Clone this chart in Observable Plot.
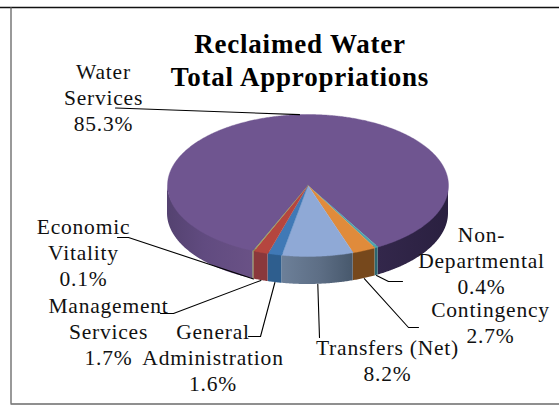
<!DOCTYPE html>
<html>
<head>
<meta charset="utf-8">
<style>
html,body{margin:0;padding:0;background:#fff}
svg{display:block}
</style>
<script src="https://cdn.jsdelivr.net/npm/d3@7"></script>
<script src="https://cdn.jsdelivr.net/npm/@observablehq/plot@0.6"></script>
</head>
<body>
<div id="chart"></div>
<script>
// ---- chart values, clockwise from the Water Services slice
const categories = ["Water\nServices", "Non-\nDepartmental", "Contingency", "Transfers (Net)", "General\nAdministration", "Management\nServices", "Economic\nVitality"];
const shares = [85.3, 0.4, 2.7, 8.2, 1.6, 1.7, 0.1];
const titleLines = "Reclaimed Water\nTotal Appropriations";

// ---- styling, one entry per slice
const topColors = ["#6f5590", "#4fa3ad", "#e08b3b", "#8fa9d6", "#4079b6", "#b5463f", "#92a050"];
const wallColors = ["url(#wallWater)", "#2b6670", "#76481c", "url(#wallTransfers)", "#2e5e8e", "#8a383c", "#6c7434"];

// ---- layout, in page pixels
const cx = 307.5, cy = 185, rx = 140.5, ry = 71, depth = 28;
const firstAngle = 203; // degrees clockwise from the top of the pie
const labelX = [103, 481, 490, 387, 212.5, 108, 83];
const labelY = [96.5, 259.5, 321, 359, 356.3, 330, 251.5];
const elbows = [
  [[115, 107.5]],
  [[402, 281], [388, 281]],
  [[418, 327], [408, 327]],
  [[319, 337]],
  [[248, 336], [260, 336]],
  [[160, 313], [173, 313]],
  [[117, 237], [128, 237]]
];

// ---- geometry derived from the values
const rad = (d) => (d * Math.PI) / 180;
const px = (a) => cx + rx * Math.sin(rad(a));
const py = (a) => cy - ry * Math.cos(rad(a));
let cum = firstAngle;
const slices = shares.map((s, i) => {
  const a0 = cum;
  const a1 = cum + (s / 100) * 360;
  cum = a1;
  return {i, a0, a1, mid: (a0 + a1) / 2};
});
function arc(a0, a1) {
  const n = Math.max(2, Math.ceil(a1 - a0) * 2 + 1);
  return d3.range(n).map((k) => a0 + ((a1 - a0) * k) / (n - 1));
}
const topPoly = (s) => [[cx, cy], ...arc(s.a0, s.a1).map((a) => [px(a), py(a)])];
function frontSpans(s) {
  const out = [];
  for (const shift of [0, -360]) {
    const lo = Math.max(s.a0 + shift, 90), hi = Math.min(s.a1 + shift, 270);
    if (hi > lo) out.push([lo, hi]);
  }
  return out;
}
function leader(s) {
  const mid = ((s.mid % 360) + 360) % 360;
  const front = mid > 90 && mid < 270;
  const end = [px(mid), py(mid) + (front ? depth : 0)];
  return [...elbows[s.i], end];
}

const gradient = (id, stops) =>
  `<linearGradient id="${id}" gradientUnits="userSpaceOnUse" x1="${stops[0][0]}" y1="0" x2="${stops[stops.length - 1][0]}" y2="0">` +
  stops.map(([x, c]) => `<stop offset="${(x - stops[0][0]) / (stops[stops.length - 1][0] - stops[0][0])}" stop-color="${c}"/>`).join("") +
  `</linearGradient>`;
const defsMark = () => {
  const g = d3.create("svg:defs");
  g.html(
    gradient("wallWater", [[167, "#544270"], [205, "#614b80"], [255, "#6a5286"], [256, "#6a5286"], [378, "#33274b"], [448, "#2a2040"]]) +
    gradient("wallTransfers", [[283, "#6c7f98"], [320, "#5d6e85"], [353, "#47586c"]])
  );
  return g.node();
};

const ruleStyle = {stroke: "#000", strokeWidth: 1.1};
const marks = [defsMark];

// frame: the reference shows it on the left, top and bottom only
marks.push(Plot.ruleY([7], {stroke: "#111", strokeWidth: 1.4}));
marks.push(Plot.ruleY([403.5], {stroke: "#6a6a6a", strokeWidth: 1.6, x1: 10.5, x2: 559}));
marks.push(Plot.ruleX([10.5], {stroke: "#555", strokeWidth: 1.2, y1: 7, y2: 403.5}));

// side walls, started a little above the rim so the top face covers the seam
slices.forEach((s) => {
  frontSpans(s).forEach(([lo, hi]) => {
    marks.push(Plot.area(arc(lo, hi), {
      x1: (a) => px(a), y1: (a) => py(a) - 2,
      x2: (a) => px(a), y2: (a) => py(a) + depth,
      fill: wallColors[s.i]
    }));
  });
});
// top faces
slices.forEach((s) => {
  marks.push(Plot.line(topPoly(s), {
    x: (d) => d[0], y: (d) => d[1],
    fill: topColors[s.i], stroke: topColors[s.i], strokeWidth: 0.4
  }));
});
// leader lines
slices.forEach((s) => {
  marks.push(Plot.line(leader(s), {x: (d) => d[0], y: (d) => d[1], ...ruleStyle}));
});
// labels
const labels = slices.map((s) => ({
  text: `${categories[s.i]}\n${shares[s.i].toFixed(1)}%`,
  x: labelX[s.i], y: labelY[s.i]
}));
marks.push(Plot.text(labels, {
  x: "x", y: "y", text: "text",
  fontFamily: "Liberation Serif", fontSize: 21.5, lineHeight: 1.21,
  textAnchor: "middle", lineAnchor: "middle", fill: "#111"
}));
marks.push(Plot.text([titleLines], {
  x: () => 299.5, y: () => 58, text: (d) => d,
  fontFamily: "Liberation Serif", fontWeight: "bold", fontSize: 27, lineHeight: 1.22,
  textAnchor: "middle", lineAnchor: "middle", fill: "#000"
}));

const chart = Plot.plot({
  width: 559, height: 405,
  margin: 0,
  x: {type: "linear", domain: [0, 559], range: [0, 559], axis: null},
  y: {type: "linear", domain: [0, 405], range: [0, 405], axis: null},
  style: {background: "#fff", letterSpacing: "0.8px"},
  marks
});
document.getElementById("chart").append(chart);
</script>
</body>
</html>
